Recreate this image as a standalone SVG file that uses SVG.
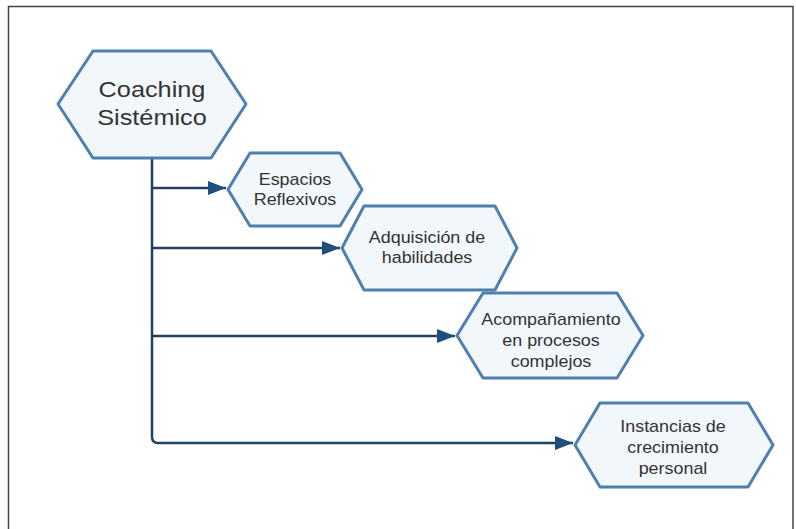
<svg xmlns="http://www.w3.org/2000/svg" width="796" height="529" viewBox="0 0 796 529">
<style>
.hex{fill:#f2f7fc;stroke:#4f7fae;stroke-width:3;stroke-linejoin:round}
.conn{fill:none;stroke:#22405f;stroke-width:2.5;stroke-linejoin:round}
.t{font-family:"Liberation Sans",Arial,sans-serif;fill:#333;text-anchor:middle}
.big{font-size:22px}
.sm{font-size:16px}
</style>
<defs>
<marker id="ah" markerUnits="userSpaceOnUse" markerWidth="19" markerHeight="15" refX="18" refY="7.5" orient="auto">
<path d="M0,0.5 L18,7.5 L0,14.5 z" fill="#1f4f7c"/>
</marker>
</defs>
<rect x="8.5" y="6.5" width="784.5" height="540" fill="#fff" stroke="#444" stroke-width="1.5"/>
<g id="connectors">
<path class="conn" d="M152,158 V437 Q152,443 158,443 H573" marker-end="url(#ah)"/>
<path class="conn" d="M152,188 H226" marker-end="url(#ah)"/>
<path class="conn" d="M152,248 H340" marker-end="url(#ah)"/>
<path class="conn" d="M152,336 H455" marker-end="url(#ah)"/>
</g>
<g id="coaching">
<path class="hex" d="M58,104 L93,51 H211 L246,104 L211,158 H93 Z"/>
<g transform="translate(152 0) scale(1.15 1)">
<text class="t big" x="0" y="97">Coaching</text>
<text class="t big" x="0" y="125">Sistémico</text>
</g>
</g>
<g id="espacios">
<path class="hex" d="M228,189.5 L250,153 H340 L362,189.5 L340,226 H250 Z"/>
<g transform="translate(295 0) scale(1.12 1)">
<text class="t sm" x="0" y="185">Espacios</text>
<text class="t sm" x="0" y="205">Reflexivos</text>
</g>
</g>
<g id="adquisicion">
<path class="hex" d="M342,248 L364,206 H495 L517,248 L495,290 H364 Z"/>
<g transform="translate(427 0) scale(1.12 1)">
<text class="t sm" x="0" y="243">Adquisición de</text>
<text class="t sm" x="0" y="263">habilidades</text>
</g>
</g>
<g id="acompanamiento">
<path class="hex" d="M457,335.5 L483,293 H617 L643,335.5 L617,378 H483 Z"/>
<g transform="translate(551 0) scale(1.12 1)">
<text class="t sm" x="0" y="325">Acompañamiento</text>
<text class="t sm" x="0" y="346">en procesos</text>
<text class="t sm" x="0" y="367">complejos</text>
</g>
</g>
<g id="instancias">
<path class="hex" d="M575,445 L600,403 H748 L773,445 L748,487 H600 Z"/>
<g transform="translate(673 0) scale(1.12 1)">
<text class="t sm" x="0" y="432">Instancias de</text>
<text class="t sm" x="0" y="453">crecimiento</text>
<text class="t sm" x="0" y="474">personal</text>
</g>
</g>
</svg>
